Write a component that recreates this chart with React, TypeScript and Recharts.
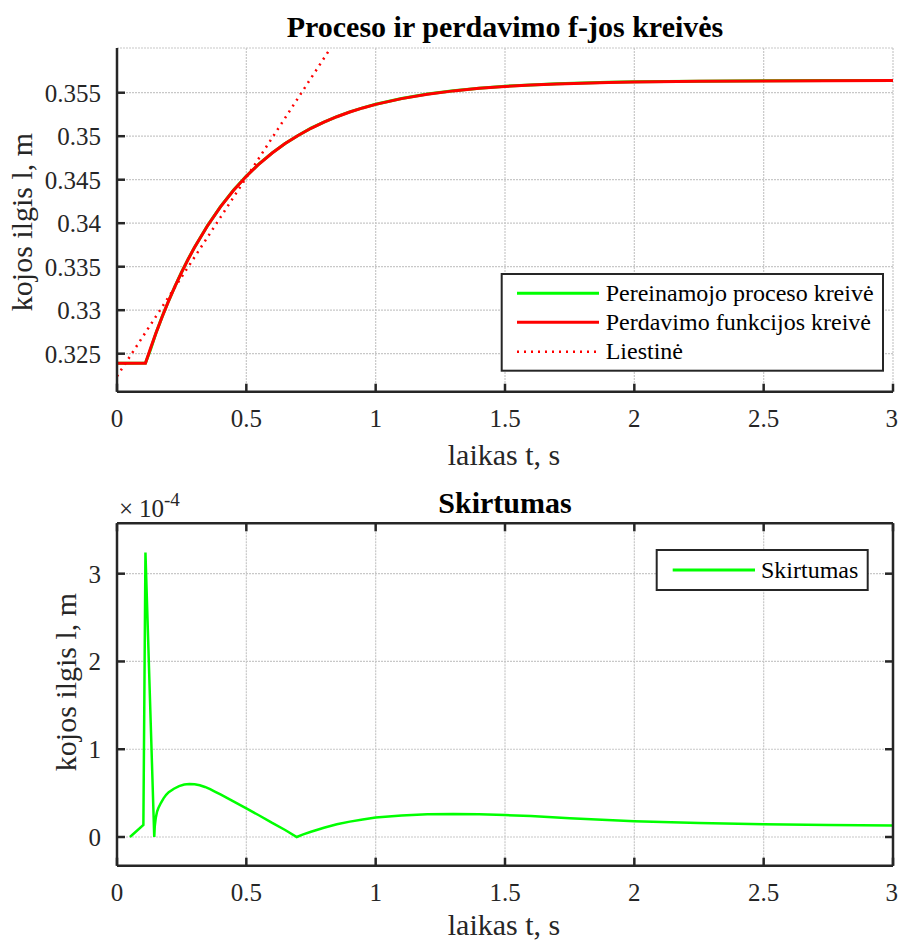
import React from 'react';
import { LineChart, Line, XAxis, YAxis, CartesianGrid } from 'recharts';

// ---------- top chart data ----------
const timeTop = [0, 0.05, 0.11, 0.13, 0.15, 0.175, 0.2, 0.225, 0.25, 0.275, 0.3, 0.35, 0.4, 0.45, 0.5, 0.55, 0.6, 0.65, 0.7, 0.75, 0.8, 0.85, 0.9, 0.95, 1.0, 1.1, 1.2, 1.3, 1.4, 1.5, 1.6, 1.7, 1.8, 1.9, 2.0, 2.25, 2.5, 2.75, 3.0];
// Pereinamojo proceso kreivė (process response), m
const procesas = [0.3239, 0.32391, 0.32393, 0.32552, 0.32732, 0.32929, 0.33111, 0.33281, 0.33439, 0.33587, 0.33725, 0.33973, 0.3419, 0.34378, 0.34542, 0.34685, 0.34809, 0.34917, 0.35009, 0.35092, 0.35163, 0.35225, 0.35279, 0.35326, 0.35368, 0.35434, 0.35485, 0.35523, 0.35552, 0.35574, 0.3559, 0.35603, 0.35612, 0.35619, 0.35625, 0.35633, 0.35638, 0.3564, 0.35641];
// Perdavimo funkcijos kreivė (transfer function), m
const perdavimas = [0.3239, 0.3239, 0.3239, 0.32566, 0.32732, 0.32927, 0.33109, 0.33279, 0.33437, 0.33585, 0.33723, 0.33971, 0.34188, 0.34376, 0.3454, 0.34683, 0.34807, 0.34915, 0.35009, 0.35091, 0.35162, 0.35224, 0.35278, 0.35325, 0.35366, 0.35432, 0.35483, 0.35521, 0.3555, 0.35572, 0.35588, 0.35601, 0.3561, 0.35617, 0.35623, 0.35631, 0.35636, 0.35638, 0.35639];
// Liestinė (tangent line)
const tangentT = [0, 0.825];
const tangentV = [0.3224, 0.3601];

const xTicks = [0, 0.5, 1, 1.5, 2, 2.5, 3];
const yTicksTop = [0.325, 0.33, 0.335, 0.34, 0.345, 0.35, 0.355];

// ---------- bottom chart data (values in units of 1e-4 m) ----------
const diffT = [0.05, 0.102, 0.11, 0.144, 0.146, 0.15, 0.155, 0.16, 0.17, 0.18, 0.19, 0.2, 0.22, 0.24, 0.26, 0.28, 0.3, 0.32, 0.34, 0.36, 0.38, 0.4, 0.45, 0.5, 0.55, 0.6, 0.65, 0.695, 0.72, 0.75, 0.8, 0.85, 0.9, 0.95, 1.0, 1.1, 1.2, 1.3, 1.4, 1.5, 1.6, 1.75, 2.0, 2.25, 2.5, 2.75, 3.0];
const skirtumas = [0, 0.137, 3.24, 0, 0.12, 0.22, 0.29, 0.33, 0.39, 0.44, 0.48, 0.51, 0.55, 0.58, 0.597, 0.603, 0.6, 0.59, 0.57, 0.545, 0.515, 0.485, 0.405, 0.325, 0.245, 0.16, 0.08, 0, 0.03, 0.06, 0.105, 0.145, 0.175, 0.2, 0.222, 0.245, 0.258, 0.262, 0.258, 0.25, 0.24, 0.215, 0.18, 0.16, 0.146, 0.137, 0.13];
const yTicksBottom = [0, 1, 2, 3];

const FONT = '"Liberation Serif", "Times New Roman", Times, serif';
const AX = '#262626';
const GRID = '#c8c8c8';

const procData = timeTop.map((t, i) => ({ t, v: procesas[i] }));
const perdData = timeTop.map((t, i) => ({ t, v: perdavimas[i] }));
const tanData = tangentT.map((t, i) => ({ t, v: tangentV[i] }));
const diffData = diffT.map((t, i) => ({ t, v: skirtumas[i] }));

const tickStyle = { fontSize: 25, fill: AX, fontFamily: FONT };
const fmtTop = (v: number) => String(Number(v.toFixed(3)));
const fmtX = (v: number) => String(v);
const blank = () => '';
const axLine = { stroke: AX, strokeWidth: 2.5 };

export default function App() {
  return (
    <div style={{ position: 'absolute', left: 0, top: 0, width: 898, height: 942, background: '#fff', fontFamily: FONT }}>
      <div style={{ position: 'absolute', left: 0, top: 0 }}>
        <LineChart width={898} height={480} margin={{ top: 48, right: 5, bottom: 58.3, left: 0 }}>
          <CartesianGrid stroke={GRID} strokeDasharray="2 1" strokeWidth={1.2} />
          <XAxis
            type="number"
            dataKey="t"
            domain={[0, 3]}
            ticks={xTicks}
            allowDataOverflow
            height={30}
            tickSize={-8}
            tickMargin={26}
            tickFormatter={fmtX}
            tick={tickStyle}
            axisLine={axLine}
            tickLine={axLine}
          />
          <YAxis
            type="number"
            domain={[0.32063, 0.36014]}
            ticks={yTicksTop}
            allowDataOverflow
            width={117}
            tickSize={-8}
            tickMargin={24}
            tickFormatter={fmtTop}
            tick={tickStyle}
            axisLine={axLine}
            tickLine={axLine}
          />
          <Line data={procData} dataKey="v" type="linear" stroke="#00ff00" strokeWidth={3} dot={false} isAnimationActive={false} />
          <Line data={perdData} dataKey="v" type="linear" stroke="#ff0000" strokeWidth={3} dot={false} isAnimationActive={false} />
          <Line data={tanData} dataKey="v" type="linear" stroke="#ff0000" strokeWidth={2.5} strokeDasharray="2 5" dot={false} isAnimationActive={false} />
        </LineChart>
      </div>

      <div style={{ position: 'absolute', left: 0, top: 480 }}>
        <LineChart width={898} height={462} margin={{ top: 42.3, right: 4, bottom: 46.3, left: 0 }}>
          <CartesianGrid stroke={GRID} strokeDasharray="2 1" strokeWidth={1.2} />
          <XAxis
            type="number"
            dataKey="t"
            domain={[0, 3]}
            ticks={xTicks}
            allowDataOverflow
            height={30}
            tickSize={-8}
            tickMargin={26}
            tickFormatter={fmtX}
            tick={tickStyle}
            axisLine={axLine}
            tickLine={axLine}
          />
          <XAxis
            xAxisId="top"
            orientation="top"
            type="number"
            dataKey="t"
            domain={[0, 3]}
            ticks={xTicks}
            allowDataOverflow
            height={1}
            tickSize={-8}
            tickFormatter={blank}
            axisLine={axLine}
            tickLine={axLine}
          />
          <YAxis
            type="number"
            domain={[-0.327, 3.574]}
            ticks={yTicksBottom}
            allowDataOverflow
            width={117}
            tickSize={-8}
            tickMargin={24}
            tickFormatter={fmtX}
            tick={tickStyle}
            axisLine={axLine}
            tickLine={axLine}
          />
          <YAxis
            yAxisId="right"
            orientation="right"
            type="number"
            domain={[-0.327, 3.574]}
            ticks={yTicksBottom}
            allowDataOverflow
            width={1}
            tickSize={-8}
            tickFormatter={blank}
            axisLine={axLine}
            tickLine={axLine}
          />
          <Line data={diffData} dataKey="v" type="linear" stroke="#00ff00" strokeWidth={2.5} dot={false} isAnimationActive={false} />
        </LineChart>
      </div>

      <svg width={898} height={942} style={{ position: 'absolute', left: 0, top: 0, pointerEvents: 'none' }} fontFamily={FONT}>
        {/* top chart texts */}
        <text x={505} y={37.3} textAnchor="middle" fontSize={30} fontWeight="bold" fill="#000">Proceso ir perdavimo f-jos kreivės</text>
        <text x={504} y={465} textAnchor="middle" fontSize={30} fill={AX}>laikas t, s</text>
        <text transform="translate(32,222) rotate(-90)" textAnchor="middle" fontSize={30} fill={AX}>kojos ilgis l, m</text>

        {/* top legend */}
        <rect x={501.7} y={274} width={381.3} height={96.7} fill="#fff" stroke={AX} strokeWidth={2} />
        <line x1={517} y1={293.3} x2={599} y2={293.3} stroke="#00ff00" strokeWidth={3} />
        <line x1={517} y1={322.3} x2={599} y2={322.3} stroke="#ff0000" strokeWidth={3} />
        <line x1={517} y1={351.7} x2={599} y2={351.7} stroke="#ff0000" strokeWidth={2.5} strokeDasharray="2 5" />
        <text x={605.7} y={300.7} fontSize={24} fill="#000">Pereinamojo proceso kreivė</text>
        <text x={605.7} y={330} fontSize={24} fill="#000">Perdavimo funkcijos kreivė</text>
        <text x={605.7} y={359.3} fontSize={24} fill="#000">Liestinė</text>

        {/* bottom chart texts */}
        <text x={505} y={513.3} textAnchor="middle" fontSize={30} fontWeight="bold" fill="#000">Skirtumas</text>
        <text y={516.7} fontSize={25} fill={AX}>
          <tspan x={119}>×</tspan>
          <tspan x={139}>10</tspan>
          <tspan fontSize={19} dy={-11}>-4</tspan>
        </text>
        <text x={504} y={935} textAnchor="middle" fontSize={30} fill={AX}>laikas t, s</text>
        <text transform="translate(76,682) rotate(-90)" textAnchor="middle" fontSize={30} fill={AX}>kojos ilgis l, m</text>

        {/* bottom legend */}
        <rect x={656.7} y={550} width={211} height={40} fill="#fff" stroke={AX} strokeWidth={2} />
        <line x1={672.7} y1={570} x2={755} y2={570} stroke="#00ff00" strokeWidth={3} />
        <text x={761} y={578.3} fontSize={24} fill="#000">Skirtumas</text>
      </svg>
    </div>
  );
}
